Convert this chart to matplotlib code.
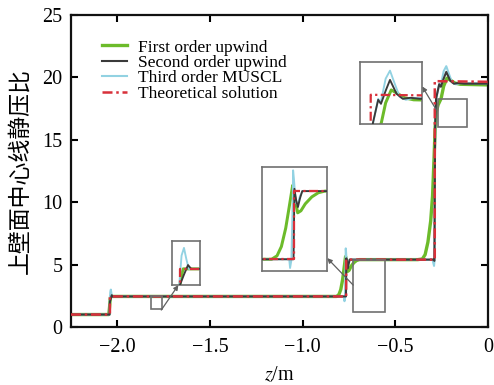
import matplotlib
matplotlib.use("Agg")
import matplotlib.pyplot as plt
from matplotlib.patches import Rectangle

# ---------------- data ----------------
z_theory = [-2.25, -2.040, -2.040, -0.766, -0.766, -0.288, -0.288, 0.0]
p_theory = [1.0, 1.0, 2.45, 2.45, 5.4, 5.4, 19.7, 19.65]

z_first = [-2.25, -2.046, -2.042, -2.039, -2.036, -2.030, -1.0,
           -0.8175, -0.805, -0.795, -0.785, -0.778, -0.772, -0.769, -0.765,
           -0.7575, -0.750, -0.740, -0.725, -0.710, -0.695, -0.60,
           -0.380, -0.355, -0.340, -0.325, -0.310, -0.300, -0.292, -0.286,
           -0.280, -0.270, -0.254, -0.240, -0.222, -0.200, -0.180, -0.150, 0.0]
p_first = [1.0, 1.0, 1.6, 2.2, 2.45, 2.45, 2.45,
           2.45, 2.6, 3.0, 3.8, 4.6, 5.3, 5.65, 5.2,
           4.46, 4.55, 4.85, 5.15, 5.33, 5.4, 5.4,
           5.4, 5.45, 5.8, 6.8, 8.5, 10.5, 13.5, 16.0,
           17.2, 17.8, 18.3, 19.3, 19.94, 19.75, 19.55, 19.45, 19.4]

z_second = [-2.25, -2.042, -2.040, -2.035, -2.030, -2.026, -1.0,
            -0.767, -0.765, -0.761, -0.757, -0.752, -0.747, -0.60,
            -0.295, -0.290, -0.286, -0.281, -0.264, -0.255, -0.240, -0.226,
            -0.205, -0.185, -0.160, -0.130, 0.0]
p_second = [1.0, 1.0, 2.03, 2.3, 2.55, 2.45, 2.45,
            2.45, 5.5, 5.0, 4.71, 5.1, 5.4, 5.4,
            5.4, 5.3, 16.0, 18.3, 19.45, 19.25, 19.9, 20.44,
            19.75, 19.5, 19.55, 19.5, 19.5]

z_third = [-2.25, -2.042, -2.041, -2.038, -2.035, -2.032, -2.029, -1.0,
           -0.777, -0.775, -0.772, -0.769, -0.768, -0.766, -0.762, -0.758,
           -0.752, -0.746, -0.60,
           -0.300, -0.292, -0.289, -0.287, -0.284, -0.280, -0.264, -0.256,
           -0.240, -0.226, -0.212, -0.195, -0.175, -0.150, 0.0]
p_third = [1.0, 1.0, 2.0, 2.8, 3.0, 2.7, 2.45, 2.45,
           2.45, 2.07, 2.4, 5.0, 6.3, 5.9, 4.9, 4.8,
           5.2, 5.4, 5.4,
           5.4, 4.9, 5.4, 14.0, 17.5, 18.3, 19.5, 19.3,
           20.5, 20.9, 20.3, 19.6, 19.45, 19.55, 19.5]

labels = ["First order upwind", "Second order upwind",
          "Third order MUSCL", "Theoretical solution"]
x_ticks = [-2.0, -1.5, -1.0, -0.5, 0.0]
x_ticklabels = ["\u22122.0", "\u22121.5", "\u22121.0", "\u22120.5", "0"]
y_ticks = [0, 5, 10, 15, 20, 25]

# ---------------- style ----------------
plt.rcParams["font.family"] = ["Liberation Serif", "DejaVu Serif"]
plt.rcParams["mathtext.fontset"] = "stix"

C_GREEN = "#6cbb2a"
C_BLACK = "#3a3a3a"
C_BLUE = "#92d2e2"
C_RED = "#d8303a"
C_BOX = "#707070"

fig = plt.figure(figsize=(4.94, 3.85), dpi=100)
ax = fig.add_axes([0.1437, 0.1506, 0.8445, 0.8104])


def draw(a, lw_scale=1.0):
    a.plot(z_first, p_first, color=C_GREEN, lw=2.4 * lw_scale, label=labels[0], zorder=2)
    a.plot(z_second, p_second, color=C_BLACK, lw=1.5 * lw_scale, label=labels[1], zorder=3)
    a.plot(z_third, p_third, color=C_BLUE, lw=1.5 * lw_scale, label=labels[2], zorder=2.5)
    a.plot(z_theory, p_theory, color=C_RED, lw=1.8 * lw_scale, ls=(0, (4, 1.5, 1, 1.5)),
           label=labels[3], zorder=4)


draw(ax)
ax.set_xlim(-2.25, 0.0)
ax.set_ylim(0, 25)
ax.set_xticks(x_ticks)
ax.set_xticklabels(x_ticklabels)
ax.set_yticks(y_ticks)
ax.tick_params(direction="in", length=5, width=1.5, labelsize=14.5,
               top=True, right=True)
ax.tick_params(axis="x", pad=8)
ax.tick_params(axis="y", pad=6)
for s in ax.spines.values():
    s.set_linewidth(1.6)
    s.set_color("#111111")

ax.set_xlabel("$z$/m", fontsize=14.5, labelpad=6)
ax.set_ylabel("上壁面中心线静压比", fontsize=16.5,
              family=["Noto Sans CJK SC", "DejaVu Sans"], labelpad=8)

leg = ax.legend(loc="upper left", bbox_to_anchor=(0.074, 0.922), frameon=False,
                fontsize=12.5, handlelength=1.45, handletextpad=0.65,
                labelspacing=-0.04, borderpad=0, borderaxespad=0)

# source boxes on main axes (zoom windows)
boxes = [(-1.818, 1.44, 0.059, 1.04), (-0.730, 1.2, 0.172, 4.16), (-0.272, 16.0, 0.156, 2.3)]
for (bx, by, bw, bh) in boxes:
    ax.add_patch(Rectangle((bx, by), bw, bh, fill=False, ec=C_BOX, lw=1.2, zorder=5))

arrows = [((-1.763, 1.36), (-1.671, 3.36)),
          ((-0.728, 3.36), (-0.868, 5.52)),
          ((-0.278, 17.36), (-0.356, 19.28))]
for (p0, p1) in arrows:
    ax.annotate("", xy=p1, xytext=p0,
                arrowprops=dict(arrowstyle="-|>", color="#606060", lw=0.9,
                                mutation_scale=7, shrinkA=0, shrinkB=0), zorder=6)

# insets
insets = [
    ([0.348, 0.260, 0.057, 0.114], (-2.05, -2.015), (2.03, 3.18)),
    ([0.530, 0.296, 0.132, 0.270], (-0.84, -0.69), (1.94, 6.44)),
    ([0.729, 0.678, 0.126, 0.161], (-0.322, -0.122), (18.25, 21.33)),
]
for rect, xl, yl in insets:
    ia = fig.add_axes(rect)
    draw(ia, 0.9)
    ia.set_xlim(*xl)
    ia.set_ylim(*yl)
    ia.set_xticks([])
    ia.set_yticks([])
    for s in ia.spines.values():
        s.set_color(C_BOX)
        s.set_linewidth(1.2)

fig.savefig("out.png", dpi=100)
